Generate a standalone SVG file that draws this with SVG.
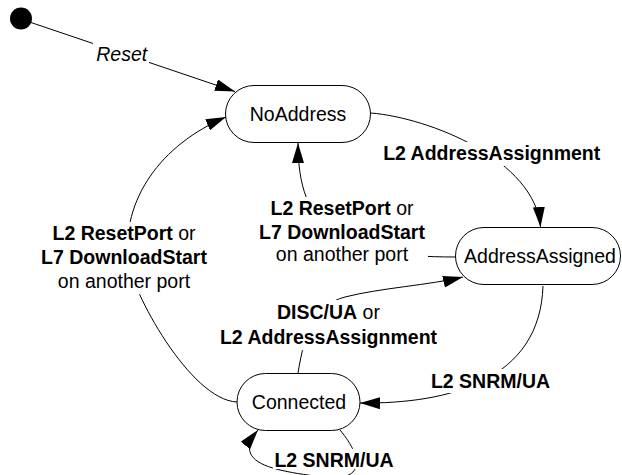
<svg xmlns="http://www.w3.org/2000/svg" width="622" height="475" viewBox="0 0 622 475">
<style>
  .state { fill: #ffffff; stroke: #000000; stroke-width: 1; }
  .edge { fill: none; stroke: #000000; stroke-width: 1; marker-end: url(#arrow); }
  .name { font-family: "Liberation Sans", Arial, sans-serif; font-size: 19.5px; fill: #000000; text-anchor: middle; }
  .lbl { font-family: "Liberation Sans", Arial, sans-serif; font-size: 19.5px; fill: #000000; text-anchor: middle; }
  .b { font-weight: bold; }
  .bg { fill: #ffffff; stroke: none; }
</style>
<defs>
  <marker id="arrow" markerUnits="userSpaceOnUse" markerWidth="20" markerHeight="12" refX="20" refY="6" orient="auto">
    <path d="M0,0 L20,6 L0,12 Z" fill="#000000"/>
  </marker>
</defs>
<rect width="622" height="475" fill="#ffffff"/>

<g id="connectors">
  <path class="edge" d="M31,22.5 L235,91.5"/>
  <path class="edge" d="M371,113 C 430,118 535,160 540.5,227"/>
  <path class="edge" d="M455,257 C 340,257 298,230 298,143"/>
  <path class="edge" d="M237,402 C 190,400 131,290 128,260 C 122,200 160,145 226,117"/>
  <path class="edge" d="M298,373 C 305,330 315,305 345,297 C 380,288 430,285 463,277"/>
  <path class="edge" d="M543,286 C 540,380 450,404 360,403"/>
  <path class="edge" d="M340,430 C 365,460 365,485 315,476 C 270,470 232,462 258,430"/>
</g>

<g id="labels">
  <g id="label-reset">
    <rect class="bg" x="93" y="41" width="56" height="24"/>
    <text class="lbl" x="121.7" y="61" font-style="italic">Reset</text>
  </g>
  <g id="label-assign">
    <rect class="bg" x="379" y="142" width="226" height="24"/>
    <text class="lbl b" x="491.7" y="160">L2 AddressAssignment</text>
  </g>
  <g id="label-reset-mid">
    <rect class="bg" x="256" y="197" width="172" height="69"/>
    <text class="lbl" x="342" y="215"><tspan class="b">L2 ResetPort</tspan> or</text>
    <text class="lbl b" x="342" y="238.5">L7 DownloadStart</text>
    <text class="lbl" x="342" y="261">on another port</text>
  </g>
  <g id="label-reset-left">
    <rect class="bg" x="50" y="222" width="149" height="72"/>
    <text class="lbl" x="124" y="240"><tspan class="b">L2 ResetPort</tspan> or</text>
    <text class="lbl b" x="124" y="264">L7 DownloadStart</text>
    <text class="lbl" x="124" y="288">on another port</text>
  </g>
  <g id="label-disc">
    <rect class="bg" x="216" y="300" width="226" height="50"/>
    <text class="lbl" x="328.5" y="319"><tspan class="b">DISC/UA</tspan> or</text>
    <text class="lbl b" x="328.5" y="343.5">L2 AddressAssignment</text>
  </g>
  <g id="label-snrm">
    <rect class="bg" x="428" y="369" width="125" height="24"/>
    <text class="lbl b" x="490.5" y="388">L2 SNRM/UA</text>
  </g>
  <g id="label-snrm-loop">
    <rect class="bg" x="273" y="449" width="122" height="20"/>
    <text class="lbl b" x="334" y="467">L2 SNRM/UA</text>
  </g>
</g>

<g id="start">
  <circle cx="21" cy="18.5" r="11" fill="#000000"/>
</g>
<g id="NoAddress">
  <rect class="state" x="225.5" y="85.5" width="145" height="57" rx="28.5" ry="28.5"/>
  <text class="name" x="298" y="121">NoAddress</text>
</g>
<g id="AddressAssigned">
  <rect class="state" x="455.5" y="227.5" width="165" height="57" rx="28.5" ry="28.5"/>
  <text class="name" x="540" y="263">AddressAssigned</text>
</g>
<g id="Connected">
  <rect class="state" x="237" y="373.5" width="123" height="57" rx="28.5" ry="28.5"/>
  <text class="name" x="299" y="409">Connected</text>
</g>
</svg>
